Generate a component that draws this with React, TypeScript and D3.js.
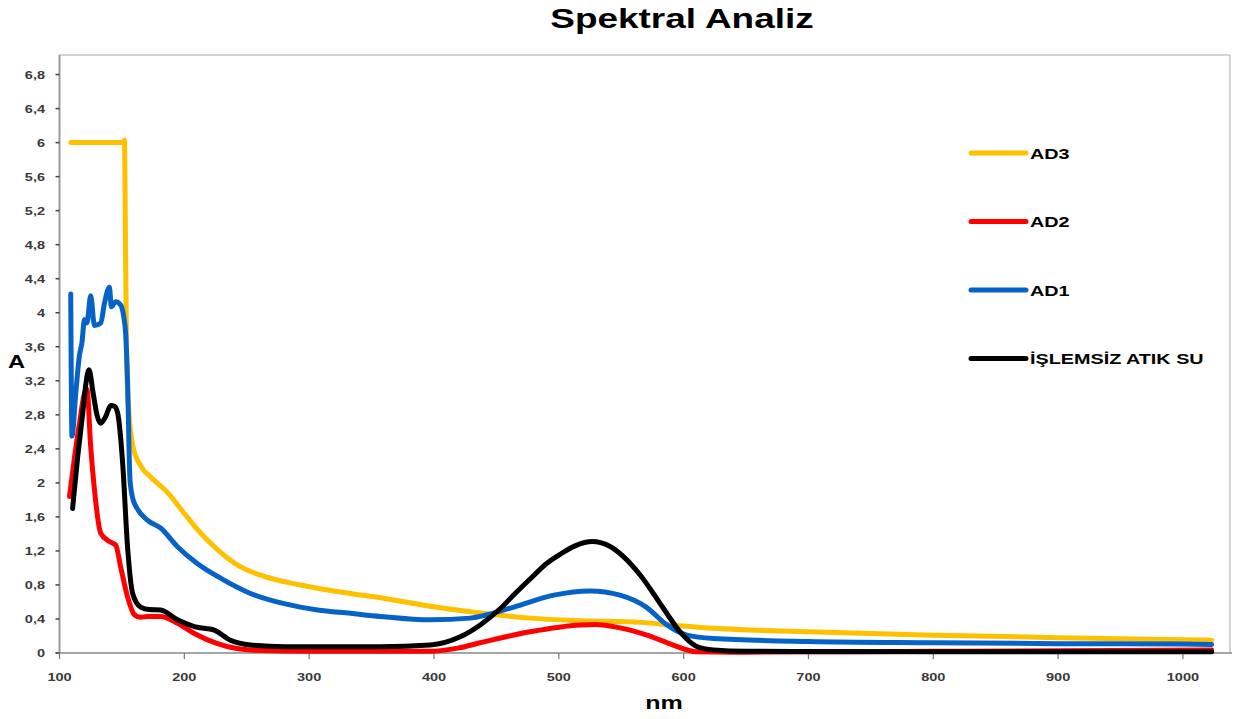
import React from "react";
import * as d3 from "d3";

// ---- data ----
const xTicks = [100, 200, 300, 400, 500, 600, 700, 800, 900, 1000];
const yTicks = [0, 0.4, 0.8, 1.2, 1.6, 2, 2.4, 2.8, 3.2, 3.6, 4, 4.4, 4.8, 5.2, 5.6, 6, 6.4, 6.8];

const seriesNames = ["AD3", "AD2", "AD1", "İŞLEMSİZ ATIK SU"];
const seriesColors = ["#FFC000", "#FF0000", "#0563C8", "#000000"];

const ad3Nm = [109, 130, 151, 152, 153, 154, 156, 159, 165, 173, 187, 200, 213, 227, 243, 264, 293, 333, 357, 397, 437, 477, 517, 565, 597, 624, 700, 800, 900, 1000, 1023];
const ad3A = [6.0, 6.0, 6.0, 6.03, 4.6, 3.3, 2.75, 2.42, 2.2, 2.07, 1.88, 1.64, 1.41, 1.21, 1.03, 0.9, 0.8, 0.7, 0.65, 0.55, 0.47, 0.41, 0.38, 0.36, 0.32, 0.29, 0.25, 0.21, 0.18, 0.155, 0.15];

const ad2Nm = [108, 112, 116, 120, 122, 125, 128, 133, 140, 145, 149, 154.5, 160, 165, 170.6, 181, 194.5, 208, 226.6, 253, 300, 350, 397, 420, 437, 477, 517, 530, 544, 570.6, 591.6, 610, 650, 800, 1023];
const ad2A = [1.84, 2.3, 2.7, 3.05, 3.1, 2.42, 1.92, 1.41, 1.31, 1.27, 1.01, 0.66, 0.45, 0.42, 0.43, 0.43, 0.35, 0.23, 0.11, 0.035, 0.02, 0.02, 0.02, 0.06, 0.12, 0.25, 0.33, 0.335, 0.31, 0.21, 0.094, 0.015, 0.01, 0.02, 0.035];

const ad1Nm = [109, 110, 113, 116, 118, 120, 122, 125, 128, 133, 136, 140, 141.5, 145, 149, 151.5, 153, 154.5, 156.5, 159, 161, 170.6, 181, 194.5, 210.6, 226.6, 253, 280, 306.6, 333, 357, 397, 429, 464, 496, 525, 549, 570, 586.6, 602.6, 624, 700, 800, 900, 1000, 1023];
const ad1A = [4.22, 2.55, 3.05, 3.5, 3.65, 3.92, 3.88, 4.2, 3.85, 3.88, 4.11, 4.3, 4.07, 4.13, 4.09, 3.95, 3.75, 3.2, 2.03, 1.8, 1.73, 1.56, 1.47, 1.25, 1.05, 0.9, 0.7, 0.58, 0.505, 0.466, 0.43, 0.39, 0.41, 0.54, 0.68, 0.73, 0.68, 0.54, 0.33, 0.21, 0.17, 0.135, 0.12, 0.11, 0.105, 0.1];

const rawNm = [110.5, 114.6, 118.6, 121, 123.6, 127, 130, 133, 137, 141, 144, 146.6, 150.6, 154.5, 158.6, 165, 172, 181, 194.5, 208, 224, 237, 253, 280, 357, 397, 421, 437, 453, 465, 477, 490, 501, 513, 527, 540, 552, 565, 584, 597, 610, 624, 650, 800, 1023];
const rawA = [1.7, 2.31, 2.82, 3.15, 3.33, 3.05, 2.8, 2.7, 2.78, 2.91, 2.9, 2.82, 2.23, 1.25, 0.7, 0.54, 0.51, 0.505, 0.39, 0.31, 0.27, 0.15, 0.094, 0.074, 0.074, 0.094, 0.19, 0.33, 0.52, 0.7, 0.87, 1.05, 1.16, 1.26, 1.31, 1.26, 1.13, 0.92, 0.52, 0.25, 0.08, 0.035, 0.02, 0.015, 0.015];

const seriesNm = [ad3Nm, ad2Nm, ad1Nm, rawNm];
const seriesA = [ad3A, ad2A, ad1A, rawA];

// ---- layout ----
const W = 1235;
const H = 719;
const left = 59.5;
const right = 1230;
const top = 55;
const bottom = 653;
const SX = 1.32; // horizontal stretch of the text in the reference
const FONT = "'Liberation Sans', Arial, Helvetica, sans-serif";

const x = d3.scaleLinear().domain([100, 1037.7]).range([left, right]);
const y = d3.scaleLinear().domain([0, 7.03]).range([bottom, top]);

const fmt = (v: number) => String(Math.round(v * 10) / 10).replace(".", ",");

function T(props: { x: number; y: number; size: number; anchor?: string; weight?: string; fill?: string; children: React.ReactNode }) {
  const { x: tx, y: ty, size, anchor = "start", weight = "bold", fill = "#000", children } = props;
  return (
    <text
      transform={`translate(${tx},${ty}) scale(${SX},1)`}
      textAnchor={anchor}
      fontFamily={FONT}
      fontSize={size}
      fontWeight={weight}
      fill={fill}
    >
      {children}
    </text>
  );
}

export default function App() {
  const line = d3
    .line<[number, number]>()
    .x((d) => x(d[0]))
    .y((d) => y(d[1]))
    .curve(d3.curveMonotoneX);

  const legendY = [153, 221.5, 290, 358.5];

  return (
    <svg width={W} height={H} style={{ position: "absolute", left: 0, top: 0, display: "block", background: "#fff" }}>
      <rect x={0} y={0} width={W} height={H} fill="#fff" />
      {/* title */}
      <T x={682} y={28} size={28} anchor="middle">Spektral Analiz</T>

      {/* frame */}
      <line x1={left} x2={right} y1={top} y2={top} stroke="#aaa" strokeWidth={1} />
      <line x1={right} x2={right} y1={top} y2={bottom} stroke="#aaa" strokeWidth={1} />
      <line x1={left} x2={left} y1={top} y2={bottom} stroke="#999" strokeWidth={2} />
      <line x1={left - 4} x2={right + 2} y1={bottom} y2={bottom} stroke="#888" strokeWidth={1.5} />

      {/* y ticks */}
      {yTicks.map((t) => (
        <g key={"y" + t}>
          <line x1={left - 4} x2={left} y1={y(t)} y2={y(t)} stroke="#444" strokeWidth={1.5} />
          <T x={45} y={y(t) + 4} size={11} anchor="end" fill="#3a3a3a">{fmt(t)}</T>
        </g>
      ))}

      {/* x ticks */}
      {xTicks.map((t) => (
        <g key={"x" + t}>
          <line x1={x(t)} x2={x(t)} y1={bottom} y2={bottom + 6} stroke="#777" strokeWidth={1.2} />
          <T x={x(t)} y={681} size={11} anchor="middle" fill="#3a3a3a">{t}</T>
        </g>
      ))}

      {/* axis titles */}
      <T x={8} y={368} size={18}>A</T>
      <T x={664} y={709} size={19} anchor="middle">nm</T>

      {/* series */}
      {seriesNm.map((nm, i) => (
        <path
          key={"s" + i}
          d={line(nm.map((v, j) => [v, seriesA[i][j]] as [number, number])) || ""}
          fill="none"
          stroke={seriesColors[i]}
          strokeWidth={5}
          strokeLinejoin="round"
          strokeLinecap="round"
        />
      ))}

      {/* legend */}
      {seriesNames.map((name, i) => (
        <g key={"l" + i}>
          <line x1={971} x2={1026} y1={legendY[i]} y2={legendY[i]} stroke={seriesColors[i]} strokeWidth={5} strokeLinecap="round" />
          <T x={1030} y={legendY[i] + 5.5} size={15}>{name}</T>
        </g>
      ))}
    </svg>
  );
}
